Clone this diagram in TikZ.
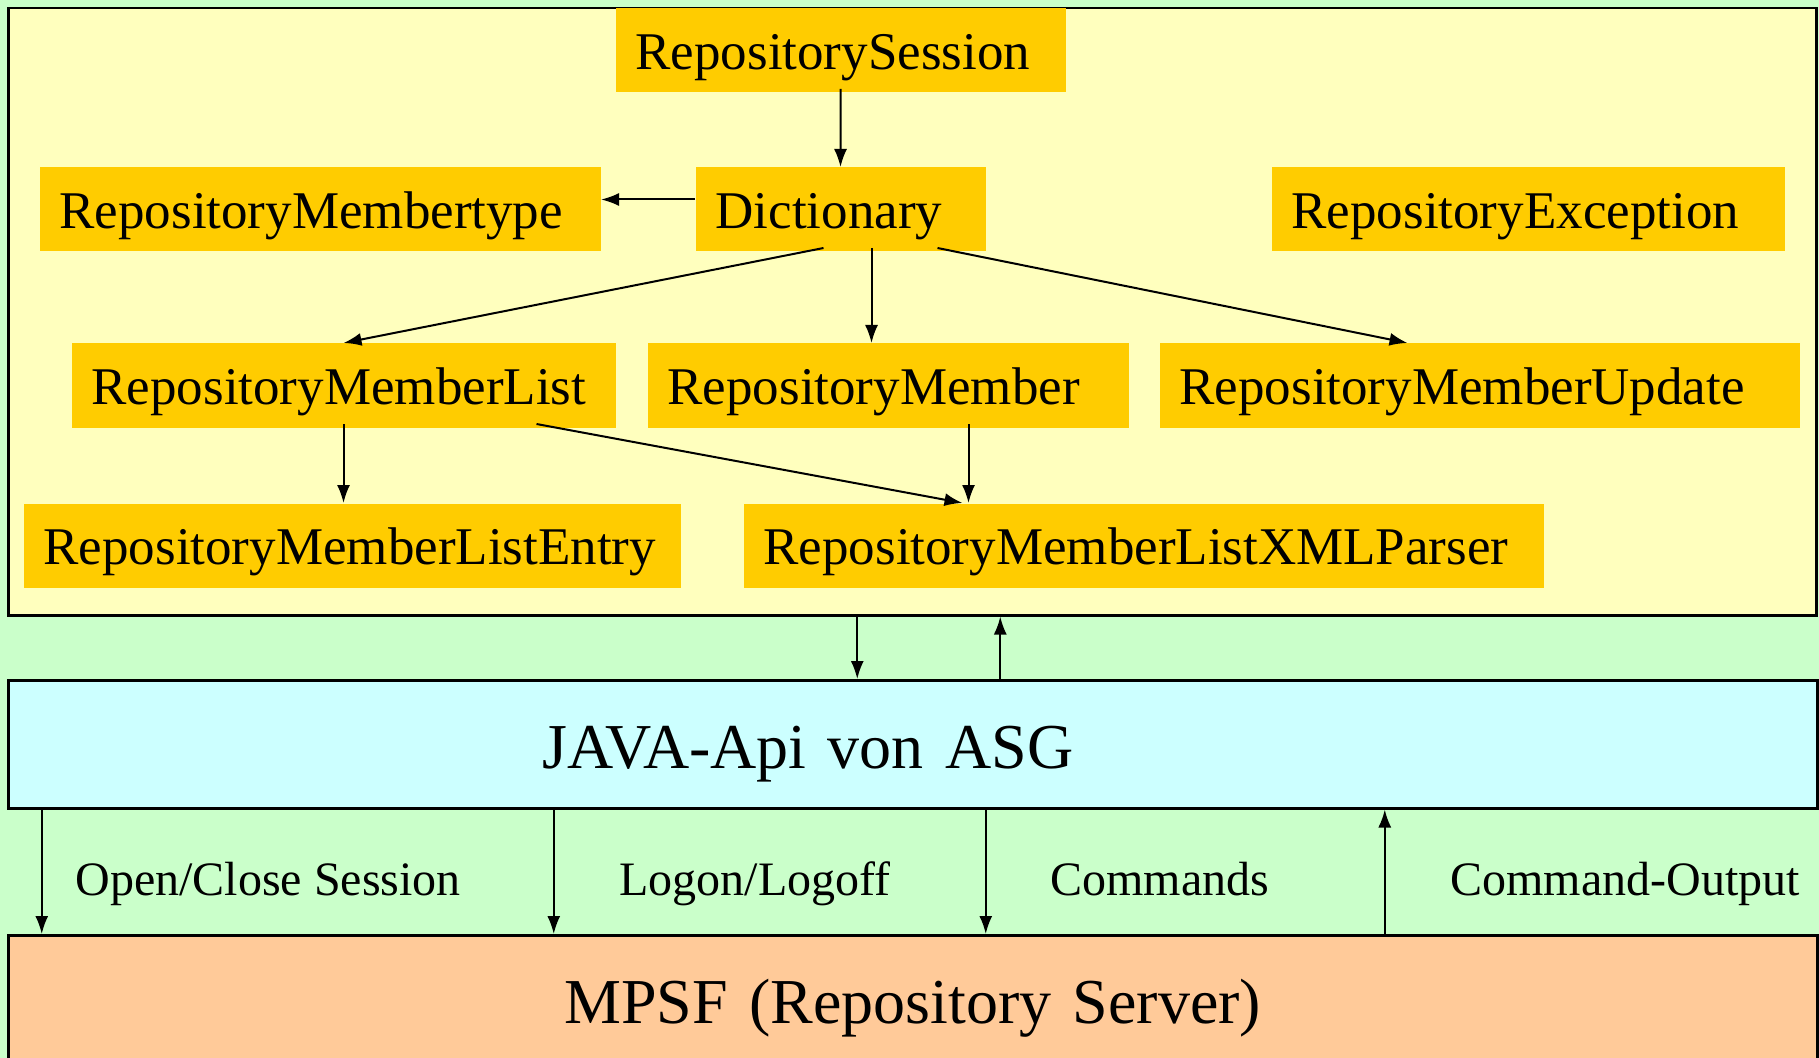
\documentclass[tikz,border=0pt]{standalone}
\usepackage{fontspec}
\setmainfont{Liberation Serif}
\usetikzlibrary{arrows.meta,calc}
\definecolor{bggreen}{HTML}{CAFFCA}
\definecolor{ltyellow}{HTML}{FFFFBE}
\definecolor{gold}{HTML}{FFCC00}
\definecolor{ltcyan}{HTML}{CCFFFF}
\definecolor{peach}{HTML}{FFCA99}
\begin{document}
\begin{tikzpicture}[x=0.4pt,y=-0.4pt,
  cls/.style={fill=gold, anchor=north west, inner xsep=8pt, inner ysep=0pt,
    text height=24.4pt, text depth=9.2pt, align=left,
    font=\fontsize{21.2}{24}\selectfont},
  layer/.style={draw=black, line width=1pt, anchor=north west, inner ysep=0pt},
  arr/.style={-{Latex[length=7.2pt,width=5.2pt]}, line width=0.8pt},
  lbl/.style={anchor=base west, inner sep=0pt, font=\fontsize{19.2}{22}\selectfont},
  big/.style={font=\fontsize{25.6}{30}\selectfont}]
\useasboundingbox (0,0) rectangle (1819,1058);
\clip (0,0) rectangle (1819,1058);
\fill[bggreen] (0,0) rectangle (1819,1058);

% layers
\node[layer, fill=ltyellow, minimum width=723.2pt, minimum height=242.8pt] (repo) at (7,7) {};
\node[layer, fill=ltcyan, big, inner xsep=213.6pt, text width=296.4pt, align=left,
  text height=35.2pt, text depth=16pt] (java) at (7,679) {JAVA-Api von ASG};
\node[layer, fill=peach, big, inner xsep=0pt, text width=723.6pt, align=center,
  text height=35.2pt, text depth=44.8pt] (mpsf) at (7,934) {MPSF (Repository Server)};

% classes
\node[cls, text width=164pt] (rs) at (615,8) {RepositorySession};
\node[cls, text width=100pt] (dict) at (695,167) {Dictionary};
\node[cls, text width=208.4pt] (rmt) at (39,167) {RepositoryMembertype};
\node[cls, text width=189.2pt] (re) at (1271,167) {RepositoryException};
\node[cls, text width=201.6pt] (rml) at (71,343) {RepositoryMemberList};
\node[cls, text width=176.4pt] (rm) at (647,343) {RepositoryMember};
\node[cls, text width=240pt] (rmu) at (1159,343) {RepositoryMemberUpdate};
\node[cls, text width=246.8pt] (entry) at (23,503) {RepositoryMemberListEntry};
\node[cls, text width=304pt] (xml) at (743,503) {RepositoryMemberListXMLParser};

% class arrows
\draw[arr] ([yshift=1.6pt]rs.south) -- (dict.north);
\draw[arr] ([yshift=4pt]dict.west) -- ([yshift=4pt]rmt.east);
\draw[arr] ([xshift=-6.8pt,yshift=1.6pt]dict.south) -- (rml.north);
\draw[arr] ([xshift=12.4pt,yshift=1.6pt]dict.south) -- ([xshift=12.4pt]dict.south |- rm.north);
\draw[arr] ([xshift=38.8pt,yshift=1.6pt]dict.south) -- ([xshift=-28.8pt]rmu.north);
\draw[arr] ([yshift=1.6pt]rml.south) -- (rml.south |- entry.north);
\draw[arr] ([xshift=77.2pt,yshift=1.6pt]rml.south) -- ([xshift=-72.4pt]xml.north);
\draw[arr] ([xshift=32.2pt,yshift=1.6pt]rm.south) -- ([xshift=32.2pt]rm.south |- xml.north);

% layer arrows
\draw[arr] ([xshift=-22pt]repo.south) -- ([xshift=-22pt]repo.south |- java.north);
\draw[arr] ([xshift=35.2pt]repo.south |- java.north) -- ([xshift=35.2pt]repo.south);
\draw[arr] ([xshift=-348.4pt]java.south) -- ([xshift=-348.4pt]java.south |- mpsf.north);
\draw[arr] ([xshift=-143.6pt]java.south) -- ([xshift=-143.6pt]java.south |- mpsf.north);
\draw[arr] ([xshift=29.2pt]java.south) -- ([xshift=29.2pt]java.south |- mpsf.north);
\draw[arr] ([xshift=188.8pt]java.south |- mpsf.north) -- ([xshift=188.8pt]java.south);

% labels
\node[lbl] (l1) at (75,895) {Open/Close Session};
\node[lbl] (l2) at (619,895) {Logon/Logoff};
\node[lbl] (l3) at (1050,895) {Commands};
\node[lbl] (l4) at (1450,895) {Command-Output};
\end{tikzpicture}
\end{document}
